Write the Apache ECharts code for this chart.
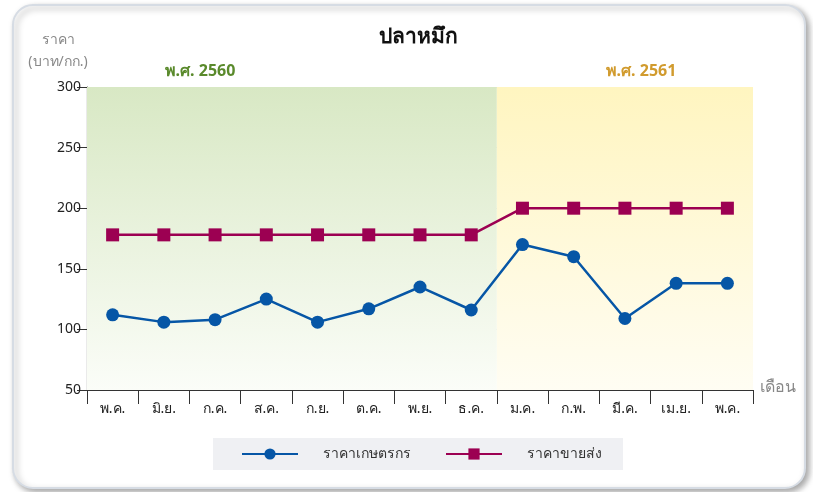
<!DOCTYPE html>
<html><head><meta charset="utf-8">
<script src="https://cdn.jsdelivr.net/npm/echarts@6/dist/echarts.min.js"></script>
<style>html,body{margin:0;padding:0;background:#fff}#c{width:813px;height:492px}</style>
</head><body><div id="c"></div>
<script>
const months = ['พ.ค.','มิ.ย.','ก.ค.','ส.ค.','ก.ย.','ต.ค.','พ.ย.','ธ.ค.','ม.ค.','ก.พ.','มี.ค.','เม.ย.','พ.ค.'];
const farmPrice = [112, 106, 108, 125, 106, 117, 135, 116, 170, 160, 109, 138, 138];
const wholesalePrice = [178, 178, 178, 178, 178, 178, 178, 178, 200, 200, 200, 200, 200];
const seriesNames = ['ราคาเกษตรกร', 'ราคาขายส่ง'];
const yTicks = {min: 50, max: 300, interval: 50};
const yearLabels = ['พ.ศ. 2560', 'พ.ศ. 2561'];
const monthsIn2560 = 8;

const font = 'Tahoma, "Noto Sans", sans-serif';
const chart = echarts.init(document.getElementById('c'), null, {renderer: 'canvas'});
const green = {type: 'linear', x: 0, y: 0, x2: 0, y2: 1, colorStops: [{offset: 0, color: '#d8e8c4'}, {offset: 1, color: '#fbfdf8'}]};
const yellow = {type: 'linear', x: 0, y: 0, x2: 0, y2: 1, colorStops: [{offset: 0, color: '#fff5c0'}, {offset: 1, color: '#fffdf3'}]};
chart.setOption({
  animation: false,
  textStyle: {fontFamily: font},
  graphic: [
    {type: 'rect', z: -10, shape: {x: 13, y: 5, width: 792, height: 483, r: 20},
     style: {fill: '#fff', stroke: '#d6dce4', lineWidth: 2, shadowBlur: 6, shadowOffsetX: 3, shadowOffsetY: 3, shadowColor: 'rgba(0,0,0,0.35)'}},
    {type: 'text', x: 418, y: 27, style: {text: 'ปลาหมึก', font: 'bold 21px ' + font, fill: '#111', textAlign: 'center'}},
    {type: 'text', x: 58, y: 33, style: {text: 'ราคา', font: '14px ' + font, fill: '#888', textAlign: 'center'}},
    {type: 'text', x: 58, y: 55, style: {text: '(บาท/กก.)', font: '14px ' + font, fill: '#888', textAlign: 'center'}},
    {type: 'text', x: 200, y: 63, style: {text: yearLabels[0], font: 'bold 16px ' + font, fill: '#5a8a2c', textAlign: 'center'}},
    {type: 'text', x: 641, y: 63, style: {text: yearLabels[1], font: 'bold 16px ' + font, fill: '#d19b2e', textAlign: 'center'}},
    {type: 'text', x: 760, y: 379, style: {text: 'เดือน', font: '16px ' + font, fill: '#888'}}
  ],
  grid: {left: 87, right: 60, top: 87, bottom: 102},
  legend: {
    bottom: 22, left: 213,
    backgroundColor: '#eff0f3', padding: [9, 21, 9, 28], itemGap: 34,
    itemWidth: 56, itemHeight: 14,
    textStyle: {fontSize: 14, color: '#333', fontFamily: font, padding: [0, 0, 0, 20]},
    data: seriesNames
  },
  xAxis: [{
    type: 'category', data: months, boundaryGap: true,
    axisLine: {lineStyle: {color: '#333', width: 1.2}},
    axisTick: {show: true, interval: 0, length: 14, lineStyle: {color: '#333'}},
    axisLabel: {color: '#222', fontSize: 14, margin: 12, interval: 0}
  }, {
    type: 'value', min: 0, max: months.length, show: false
  }],
  yAxis: {
    type: 'value', min: yTicks.min, max: yTicks.max, interval: yTicks.interval,
    axisLine: {show: true, lineStyle: {color: '#333', width: 1.2}},
    axisTick: {show: true, length: 10, lineStyle: {color: '#333'}},
    axisLabel: {color: '#222', fontSize: 14, margin: 6},
    splitLine: {show: true, lineStyle: {color: '#d8d8d8', type: [4, 3]}}
  },
  series: [
    {
      type: 'line', xAxisIndex: 1, data: [], silent: true, z: 0,
      markArea: {
        silent: true,
        data: [
          [{coord: [0, yTicks.max], itemStyle: {color: green}}, {coord: [monthsIn2560, yTicks.min]}],
          [{coord: [monthsIn2560, yTicks.max], itemStyle: {color: yellow}}, {coord: [months.length, yTicks.min]}]
        ]
      }
    },
    {
      name: seriesNames[0], type: 'line', data: farmPrice,
      symbol: 'circle', symbolSize: 13,
      lineStyle: {color: '#0656a6', width: 2.5},
      itemStyle: {color: '#0656a6'},
      z: 3
    },
    {
      name: seriesNames[1], type: 'line', data: wholesalePrice,
      symbol: 'rect', symbolSize: 13,
      lineStyle: {color: '#9c0052', width: 2.5},
      itemStyle: {color: '#9c0052'},
      z: 4
    }
  ]
});
</script></body></html>
